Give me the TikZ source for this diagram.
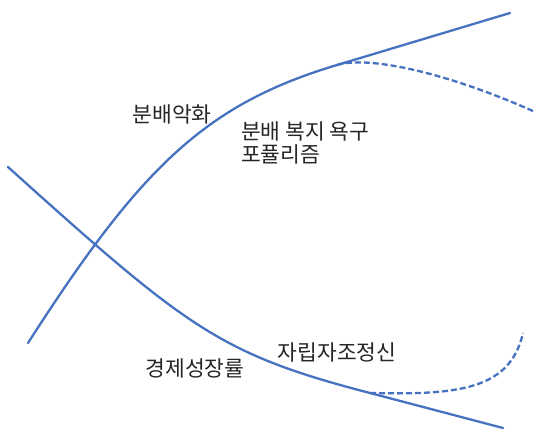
\documentclass[tikz,border=0pt]{standalone}
\usepackage{fontspec}
\newfontfamily\kr{Noto Sans CJK KR}
\definecolor{curveblue}{RGB}{70,114,192}
\begin{document}
\begin{tikzpicture}[x=1pt,y=-1pt,
  curve/.style={draw=curveblue,line width=2.3pt,line cap=round},
  dcurve/.style={draw=curveblue,line width=2.3pt,dash pattern=on 6pt off 3pt},
  lbl/.style={font=\kr\fontsize{21.5}{23}\selectfont,text=black!85,inner sep=0pt}]
\useasboundingbox (0,0) rectangle (548,434);
\coordinate (u0) at (28,343);
\coordinate (ub) at (337,65);
\coordinate (u1) at (510,13);
\coordinate (l0) at (8,167);
\coordinate (lb) at (370,393);
\coordinate (l1) at (503,428);
\draw[curve] (u0) .. controls (142,165) and (207,104) .. (ub) -- (u1);
\draw[curve] (l0) .. controls (188,329) and (220,354) .. (lb) -- (l1);
\draw[dcurve] (ub) .. controls (366,56) and (440,70) .. (533,111);
\draw[dcurve] (lb) .. controls (458,395) and (510,390) .. (523,333);
\node[lbl] (a) at (172,114) {분배악화};
\node[lbl,anchor=west] (b) at (241,131) {분배 복지 욕구};
\node[lbl,anchor=west] (c) at (241,154) {포퓰리즘};
\node[lbl] (d) at (195,368) {경제성장률};
\node[lbl] (e) at (337,352) {자립자조정신};
\end{tikzpicture}
\end{document}
